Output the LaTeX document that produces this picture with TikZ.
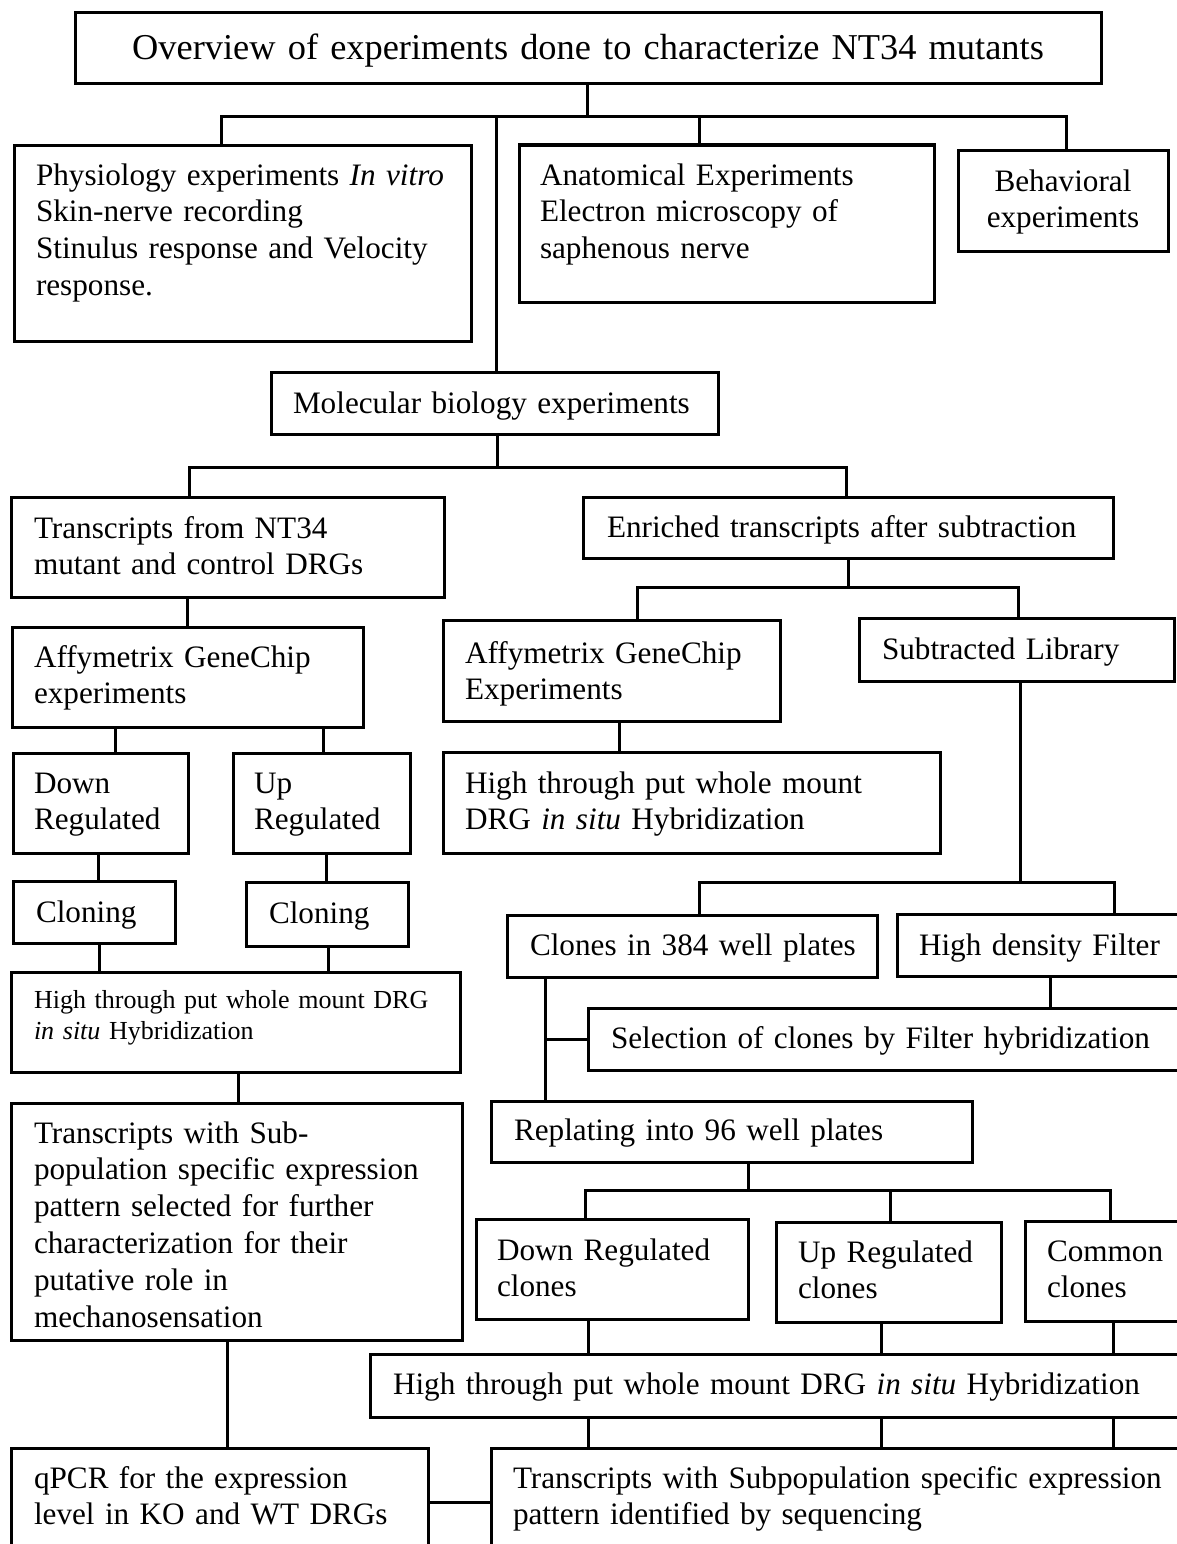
\documentclass[tikz,border=0pt]{standalone}
\usepackage{fontspec}
\setmainfont{Liberation Serif}
\usetikzlibrary{calc}
\newcommand{\mybox}[5]{\node[bx, minimum width={#4-#2}, minimum height={#5-#3}] (#1) at ({(#2+#4)/2},{(#3+#5)/2}) {};}
\tikzset{
  bx/.style={draw, line width=3pt, inner sep=0pt, outer sep=0pt, rectangle},
  conn/.style={draw, line width=3pt, line cap=rect},
  txt/.style={inner sep=0pt, outer sep=0pt, anchor=base west, align=left, text width=1000pt, font=\fontsize{31.2}{36.8}\selectfont},
  ctxt/.style={inner sep=0pt, outer sep=0pt, anchor=base, align=center, text width=300pt, font=\fontsize{31.2}{36.8}\selectfont},
  small/.style={font=\fontsize{26}{31}\selectfont}
}
\begin{document}
\begin{tikzpicture}[x=1pt,y=-1pt]
\useasboundingbox (0,0) rectangle (1177,1544);
\fill[white] (0,0) rectangle (1177,1544);
\clip (0,0) rectangle (1177,1544);
% boxes
\mybox{title}{75}{13}{1101}{84}
\mybox{phys}{14}{145}{471}{341}
\mybox{anat}{519}{145}{934}{302}
\mybox{beh}{958}{150}{1168}{251}
\mybox{mol}{271}{372}{718}{434}
\mybox{trans}{11}{497}{444}{597}
\mybox{enr}{583}{497}{1113}{558}
\mybox{affyL}{12}{627}{363}{727}
\mybox{affyR}{443}{620}{780}{721}
\mybox{sub}{859}{618}{1174}{681}
\mybox{down}{13}{753}{188}{853}
\mybox{up}{233}{753}{410}{853}
\mybox{htR}{443}{752}{940}{853}
\mybox{clonL}{13}{881}{175}{943}
\mybox{clonR}{246}{882}{408}{946}
\mybox{htL}{11}{972}{460}{1072}
\mybox{cpl}{507}{915}{877}{977}
\mybox{hdf}{897}{914}{1195}{976}
\mybox{sel}{588}{1008}{1195}{1070}
\mybox{rep}{491}{1101}{972}{1162}
\mybox{tsub}{11}{1103}{462}{1340}
\mybox{drc}{476}{1219}{748}{1319}
\mybox{urc}{776}{1222}{1001}{1322}
\mybox{com}{1025}{1221}{1195}{1321}
\mybox{htW}{370}{1354}{1195}{1417}
\mybox{qpcr}{11}{1448}{428}{1565}
\mybox{transS}{491}{1448}{1195}{1565}
% texts
\node[ctxt, text width=1000pt, font=\fontsize{36.4}{42}\selectfont] (title-t) at (588,60) {Overview of experiments done to characterize NT34 mutants};
\node[txt] (phys-t) at (36,185) {Physiology experiments \textit{In vitro}\\Skin-nerve recording\\Stinulus response and Velocity\\response.};
\node[txt] (anat-t) at (540,185) {Anatomical Experiments\\Electron microscopy of\\saphenous nerve};
\node[ctxt] (beh-t) at (1063,191) {Behavioral\\experiments};
\node[txt] (mol-t) at (293,413) {Molecular biology experiments};
\node[txt] (trans-t) at (34,538) {Transcripts from NT34\\mutant and control DRGs};
\node[txt] (enr-t) at (607,537) {Enriched transcripts after subtraction};
\node[txt] (affyL-t) at (34,667) {Affymetrix GeneChip\\experiments};
\node[txt] (affyR-t) at (465,663) {Affymetrix GeneChip\\Experiments};
\node[txt] (sub-t) at (882,659) {Subtracted Library};
\node[txt] (down-t) at (34,793) {Down\\Regulated};
\node[txt] (up-t) at (254,793) {Up\\Regulated};
\node[txt] (htR-t) at (465,793) {High through put whole mount\\DRG \textit{in situ} Hybridization};
\node[txt] (clonL-t) at (36,922) {Cloning};
\node[txt] (clonR-t) at (269,923) {Cloning};
\node[txt, small] (htL-t) at (34,1008) {High through put whole mount DRG\\\textit{in situ} Hybridization};
\node[txt] (cpl-t) at (530,955) {Clones in 384 well plates};
\node[txt] (hdf-t) at (919,955) {High density Filter};
\node[txt] (sel-t) at (611,1048) {Selection of clones by Filter hybridization};
\node[txt] (rep-t) at (514,1140) {Replating into 96 well plates};
\node[txt] (tsub-t) at (34,1143) {Transcripts with Sub-\\population specific expression\\pattern selected for further\\characterization for their\\putative role in\\mechanosensation};
\node[txt] (drc-t) at (497,1260) {Down Regulated\\clones};
\node[txt] (urc-t) at (798,1262) {Up Regulated\\clones};
\node[txt] (com-t) at (1047,1261) {Common\\clones};
\node[txt] (htW-t) at (393,1394) {High through put whole mount DRG \textit{in situ} Hybridization};
\node[txt] (qpcr-t) at (34,1488) {qPCR for the expression\\level in KO and WT DRGs};
\node[txt] (transS-t) at (513,1488) {Transcripts with Subpopulation specific expression\\pattern identified by sequencing};
% junction coordinates
\coordinate (j1) at (587,117);
\coordinate (j1a) at (221,117);
\coordinate (j1b) at (1066,117);
\coordinate (j1c) at (496,117);
\coordinate (j1d) at (699,117);
\coordinate (j2) at (497,467);
\coordinate (j2a) at (189,467);
\coordinate (j2b) at (846,467);
\coordinate (j3) at (848,587);
\coordinate (j3a) at (637,587);
\coordinate (j3b) at (1018,587);
\coordinate (j4) at (1020,882);
\coordinate (j4a) at (699,882);
\coordinate (j4b) at (1114,882);
\coordinate (j5) at (545,1039);
\coordinate (j6) at (748,1190);
\coordinate (j6a) at (585,1190);
\coordinate (j6b) at (890,1190);
\coordinate (j6c) at (1110,1190);
\coordinate (h1) at (0,1502);
\coordinate (v1) at (187,0);
\coordinate (v2) at (115,0);
\coordinate (v3) at (323,0);
\coordinate (v4) at (619,0);
\coordinate (v5) at (98,0);
\coordinate (v6) at (326,0);
\coordinate (v7) at (99,0);
\coordinate (v8) at (328,0);
\coordinate (v9) at (238,0);
\coordinate (v10) at (227,0);
\coordinate (v11) at (1050,0);
\coordinate (v13) at (588,0);
\coordinate (v14) at (881,0);
\coordinate (v15) at (1113,0);
% connectors
\draw[conn] (title.south -| j1) -- (j1);
\draw[conn] (phys.north -| j1a) -- (j1a) -- (j1b) -- (beh.north -| j1b);
\draw[conn] (j1c) -- (mol.north -| j1c);
\draw[conn] (j1d) -- (anat.north -| j1d);
\draw[conn] (mol.south -| j2) -- (j2);
\draw[conn] (trans.north -| j2a) -- (j2a) -- (j2b) -- (enr.north -| j2b);
\draw[conn] (enr.south -| j3) -- (j3);
\draw[conn] (affyR.north -| j3a) -- (j3a) -- (j3b) -- (sub.north -| j3b);
\draw[conn] (trans.south -| v1) -- (affyL.north -| v1);
\draw[conn] (affyL.south -| v2) -- (down.north -| v2);
\draw[conn] (affyL.south -| v3) -- (up.north -| v3);
\draw[conn] (affyR.south -| v4) -- (htR.north -| v4);
\draw[conn] (down.south -| v5) -- (clonL.north -| v5);
\draw[conn] (up.south -| v6) -- (clonR.north -| v6);
\draw[conn] (clonL.south -| v7) -- (htL.north -| v7);
\draw[conn] (clonR.south -| v8) -- (htL.north -| v8);
\draw[conn] (htL.south -| v9) -- (tsub.north -| v9);
\draw[conn] (tsub.south -| v10) -- (qpcr.north -| v10);
\draw[conn] (qpcr.east |- h1) -- (transS.west |- h1);
\draw[conn] (sub.south -| j4) -- (j4);
\draw[conn] (cpl.north -| j4a) -- (j4a) -- (j4b) -- (hdf.north -| j4b);
\draw[conn] (hdf.south -| v11) -- (sel.north -| v11);
\draw[conn] (cpl.south -| j5) -- (rep.north -| j5);
\draw[conn] (j5) -- (sel.west |- j5);
\draw[conn] (rep.south -| j6) -- (j6);
\draw[conn] (drc.north -| j6a) -- (j6a) -- (j6c) -- (com.north -| j6c);
\draw[conn] (j6b) -- (urc.north -| j6b);
\draw[conn] (drc.south -| v13) -- (htW.north -| v13);
\draw[conn] (urc.south -| v14) -- (htW.north -| v14);
\draw[conn] (com.south -| v15) -- (htW.north -| v15);
\draw[conn] (htW.south -| v13) -- (transS.north -| v13);
\draw[conn] (htW.south -| v14) -- (transS.north -| v14);
\draw[conn] (htW.south -| v15) -- (transS.north -| v15);
\end{tikzpicture}
\end{document}
